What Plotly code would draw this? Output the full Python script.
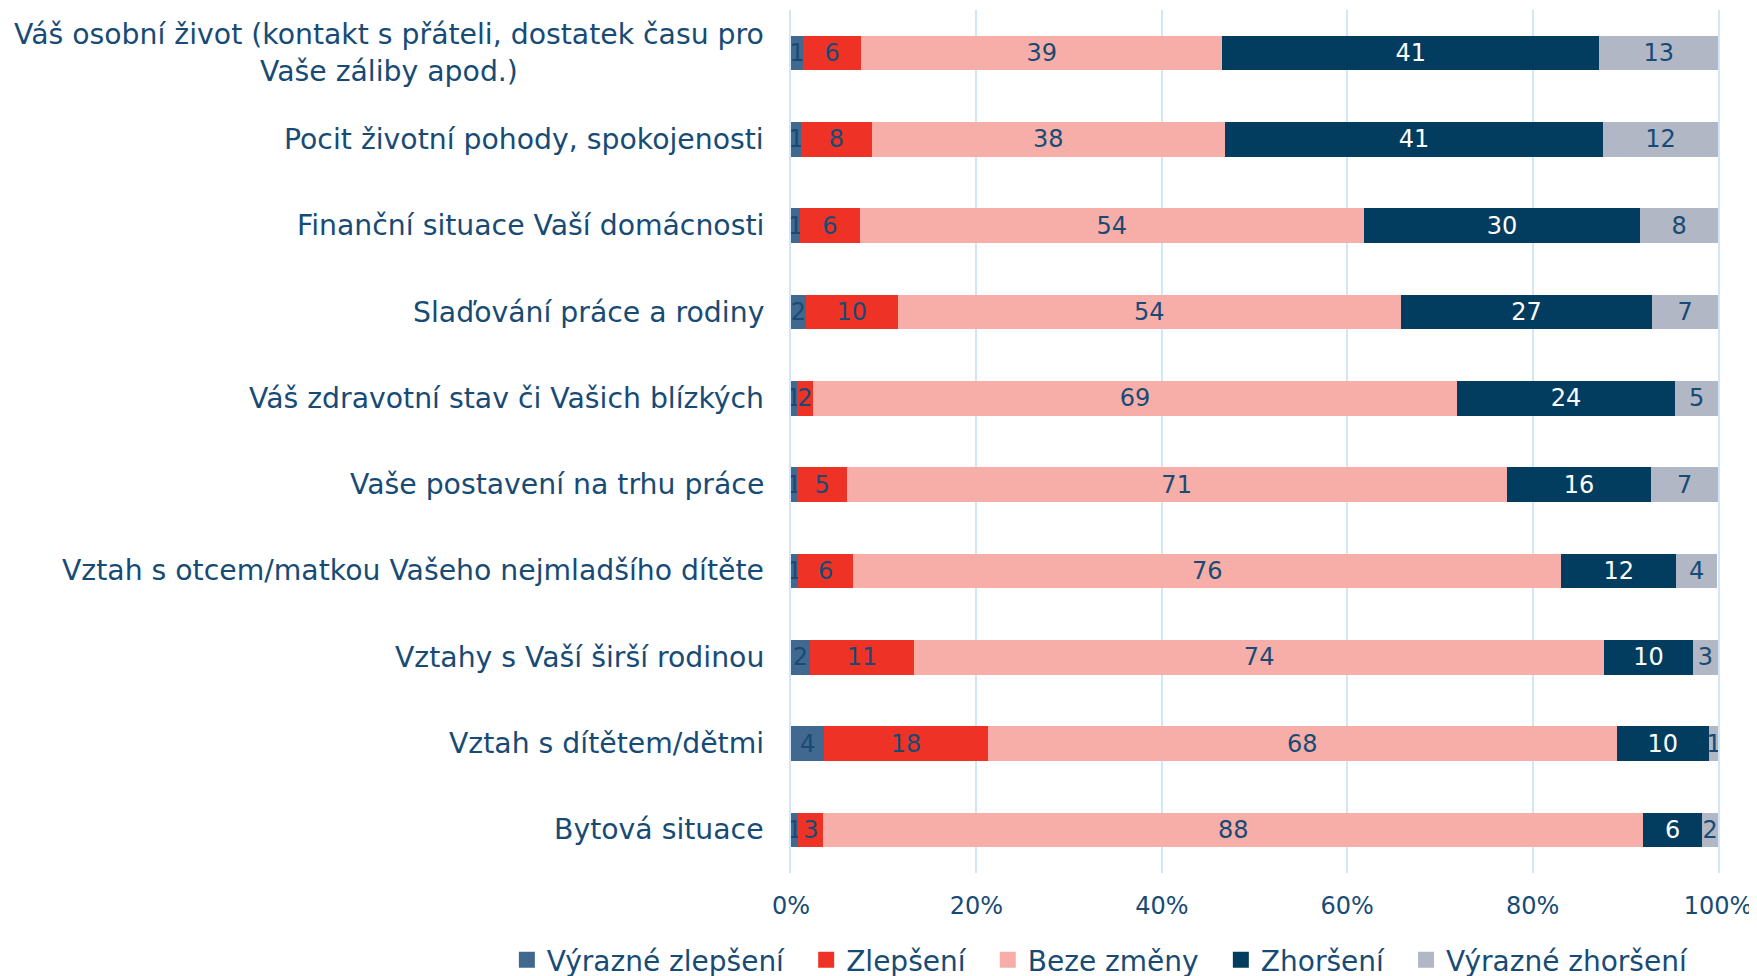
import plotly.graph_objects as go

categories = [
    "Váš osobní život (kontakt s přáteli, dostatek času pro<br>Vaše záliby apod.)",
    "Pocit životní pohody, spokojenosti",
    "Finanční situace Vaší domácnosti",
    "Slaďování práce a rodiny",
    "Váš zdravotní stav či Vašich blízkých",
    "Vaše postavení na trhu práce",
    "Vztah s otcem/matkou Vašeho nejmladšího dítěte",
    "Vztahy s Vaší širší rodinou",
    "Vztah s dítětem/dětmi",
    "Bytová situace",
]

series_names = ["Výrazné zlepšení", "Zlepšení", "Beze změny", "Zhoršení", "Výrazné zhoršení"]

vyrazne_zlepseni = [1.3, 1.1, 1.0, 1.6, 0.6, 0.7, 0.8, 2.0, 3.6, 0.8]
zlepseni = [6.3, 7.6, 6.4, 9.9, 1.8, 5.3, 5.9, 11.3, 17.6, 2.7]
beze_zmeny = [38.9, 38.1, 54.4, 54.3, 69.4, 71.2, 76.4, 74.4, 67.9, 88.4]
zhorseni = [40.7, 40.8, 29.8, 27.1, 23.6, 15.6, 12.4, 9.6, 9.9, 6.4]
vyrazne_zhorseni = [12.8, 12.4, 8.4, 7.1, 4.6, 7.2, 4.4, 2.7, 1.1, 1.7]

tick_values = [0, 20, 40, 60, 80, 100]
tick_labels = ["0%", "20%", "40%", "60%", "80%", "100%"]

series_values = [vyrazne_zlepseni, zlepseni, beze_zmeny, zhorseni, vyrazne_zhorseni]
colors = ["#41688e", "#ee3326", "#f7aea8", "#023d60", "#b1b7c4"]
label_colors = ["#174b75", "#174b75", "#174b75", "#ffffff", "#174b75"]

TEXT = "#174b75"
GRID = "#cfe7f8"
FONT = "DejaVu Sans"
PAD = "\u00a0\u2009\u200a"

fig = go.Figure()
for name, vals, col, lc in zip(series_names, series_values, colors, label_colors):
    fig.add_trace(go.Bar(
        y=categories, x=vals, name=name, orientation="h",
        marker=dict(color=col, line=dict(width=0)),
        texttemplate="%{x:.0f}", textposition="inside",
        insidetextanchor="middle", textangle=0,
        textfont=dict(color=lc, size=24, family=FONT),
        hovertemplate=name + ": %{x}<extra></extra>",
        legendgroup=name, showlegend=False,
    ))

# legend entries with larger square swatches
for name, col in zip(series_names, colors):
    fig.add_trace(go.Scatter(
        x=[None], y=[None], mode="markers", name=name + PAD,
        marker=dict(symbol="square", size=17, color=col, line=dict(width=0)),
        legendgroup=name, showlegend=True, hoverinfo="skip",
    ))

for cat in categories:
    fig.add_annotation(
        x=0, xref="paper", y=cat, yref="y", text=cat,
        xanchor="right", yanchor="middle", align="center",
        xshift=-25, showarrow=False,
        font=dict(size=28.3, color=TEXT, family=FONT),
    )

fig.update_layout(
    width=1757, height=976,
    barmode="stack", bargap=0.6,
    plot_bgcolor="white", paper_bgcolor="white",
    margin=dict(l=783, r=47, t=2, b=111, autoexpand=False),
    font=dict(family=FONT, color=TEXT),
    uniformtext=dict(minsize=24, mode="show"),
    legend=dict(
        orientation="h", x=-0.3065, xanchor="left", y=-0.101, yanchor="middle",
        font=dict(size=28, color=TEXT, family=FONT), traceorder="normal",
        itemwidth=30,
    ),
    showlegend=True,
)
fig.update_xaxes(
    range=[0, 100], tickvals=tick_values, ticktext=tick_labels,
    showgrid=True, gridcolor=GRID, gridwidth=2,
    zeroline=False, showline=False,
    tickfont=dict(size=24, color=TEXT, family=FONT),
    ticklabelstandoff=16,
)
fig.update_yaxes(
    autorange="reversed", showticklabels=False, showgrid=False,
    zeroline=False, showline=True, mirror=True, linecolor=GRID, linewidth=2,
)

fig.write_html("out.html")
